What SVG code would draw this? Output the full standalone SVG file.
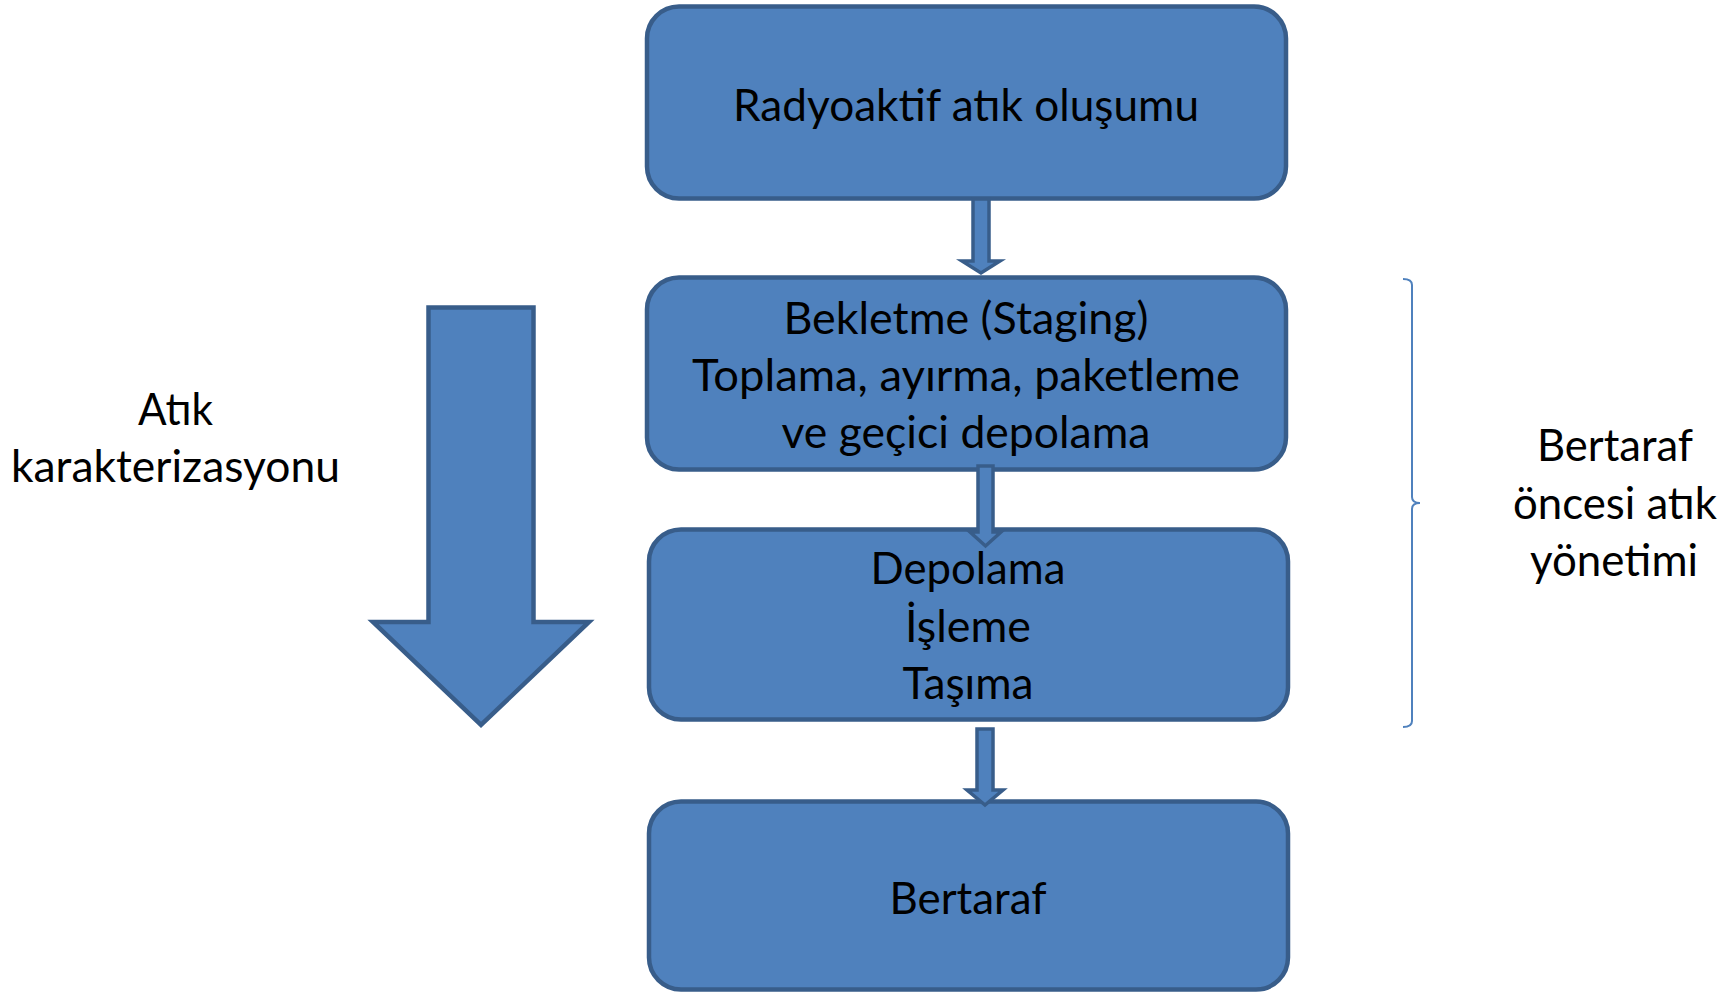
<svg xmlns="http://www.w3.org/2000/svg" width="1730" height="994" viewBox="0 0 1730 994">
<style>
.box{fill:#4F81BD;stroke:#385D8A;stroke-width:4.5}
.conn{fill:#4F81BD;stroke:#385D8A;stroke-width:3.5;stroke-linejoin:miter}
.big{fill:#4F81BD;stroke:#385D8A;stroke-width:4.5;stroke-linejoin:miter}
.t{font-family:Lato,"Open Sans","Liberation Sans",sans-serif;font-size:44px;fill:#000;text-anchor:middle}
.brace{fill:none;stroke:#4F81BD;stroke-width:2}
</style>
<rect width="1730" height="994" fill="#fff"/>
<g id="box1">
<rect class="box" x="647" y="6.5" width="639" height="192" rx="32" ry="32"/>
<text class="t" x="966" y="121" textLength="466" lengthAdjust="spacingAndGlyphs">Radyoaktif atık oluşumu</text>
</g>
<g id="box2">
<rect class="box" x="647" y="277.5" width="639" height="192" rx="32" ry="32"/>
<text class="t" x="966" y="334" textLength="365" lengthAdjust="spacingAndGlyphs">Bekletme (Staging)</text>
<text class="t" x="966" y="391" textLength="548" lengthAdjust="spacingAndGlyphs">Toplama, ayırma, paketleme</text>
<text class="t" x="966" y="448" textLength="369" lengthAdjust="spacingAndGlyphs">ve geçici depolama</text>
</g>
<g id="box3">
<rect class="box" x="649" y="529.5" width="639" height="190" rx="32" ry="32"/>
<text class="t" x="968" y="584" textLength="195" lengthAdjust="spacingAndGlyphs">Depolama</text>
<text class="t" x="968" y="642" textLength="126" lengthAdjust="spacingAndGlyphs">İşleme</text>
<text class="t" x="968" y="699" textLength="131" lengthAdjust="spacingAndGlyphs">Taşıma</text>
</g>
<g id="box4">
<rect class="box" x="649" y="801.5" width="639" height="188" rx="32" ry="32"/>
<text class="t" x="968" y="914" textLength="157" lengthAdjust="spacingAndGlyphs">Bertaraf</text>
</g>
<g id="connectors">
<path class="conn" d="M973,199 H989 V261 H1000 L981,273 L962,261 H973 Z"/>
<path class="conn" d="M978,466 H993 V532 H1001 L985.5,546 L970,532 H978 Z"/>
<path class="conn" d="M977,729 H993 V790 H1003 L985,805 L967,790 H977 Z"/>
</g>
<g id="characterization-arrow">
<path class="big" d="M428.5,307.5 H533.5 V622 H589 L481,725 L373,622 H428.5 Z"/>
</g>
<g id="characterization-label">
<text class="t" x="175.5" y="425" textLength="75" lengthAdjust="spacingAndGlyphs">Atık</text>
<text class="t" x="175.5" y="482" textLength="329" lengthAdjust="spacingAndGlyphs">karakterizasyonu</text>
</g>
<g id="predisposal-brace">
<path class="brace" d="M1403,279 Q1412,279 1412,285 V497 Q1412,503 1420,503 Q1412,503 1412,509 V721 Q1412,727 1403,727"/>
</g>
<g id="predisposal-label">
<text class="t" x="1615" y="461" textLength="156" lengthAdjust="spacingAndGlyphs">Bertaraf</text>
<text class="t" x="1615" y="519" textLength="204" lengthAdjust="spacingAndGlyphs">öncesi atık</text>
<text class="t" x="1614" y="576" textLength="168" lengthAdjust="spacingAndGlyphs">yönetimi</text>
</g>
</svg>
